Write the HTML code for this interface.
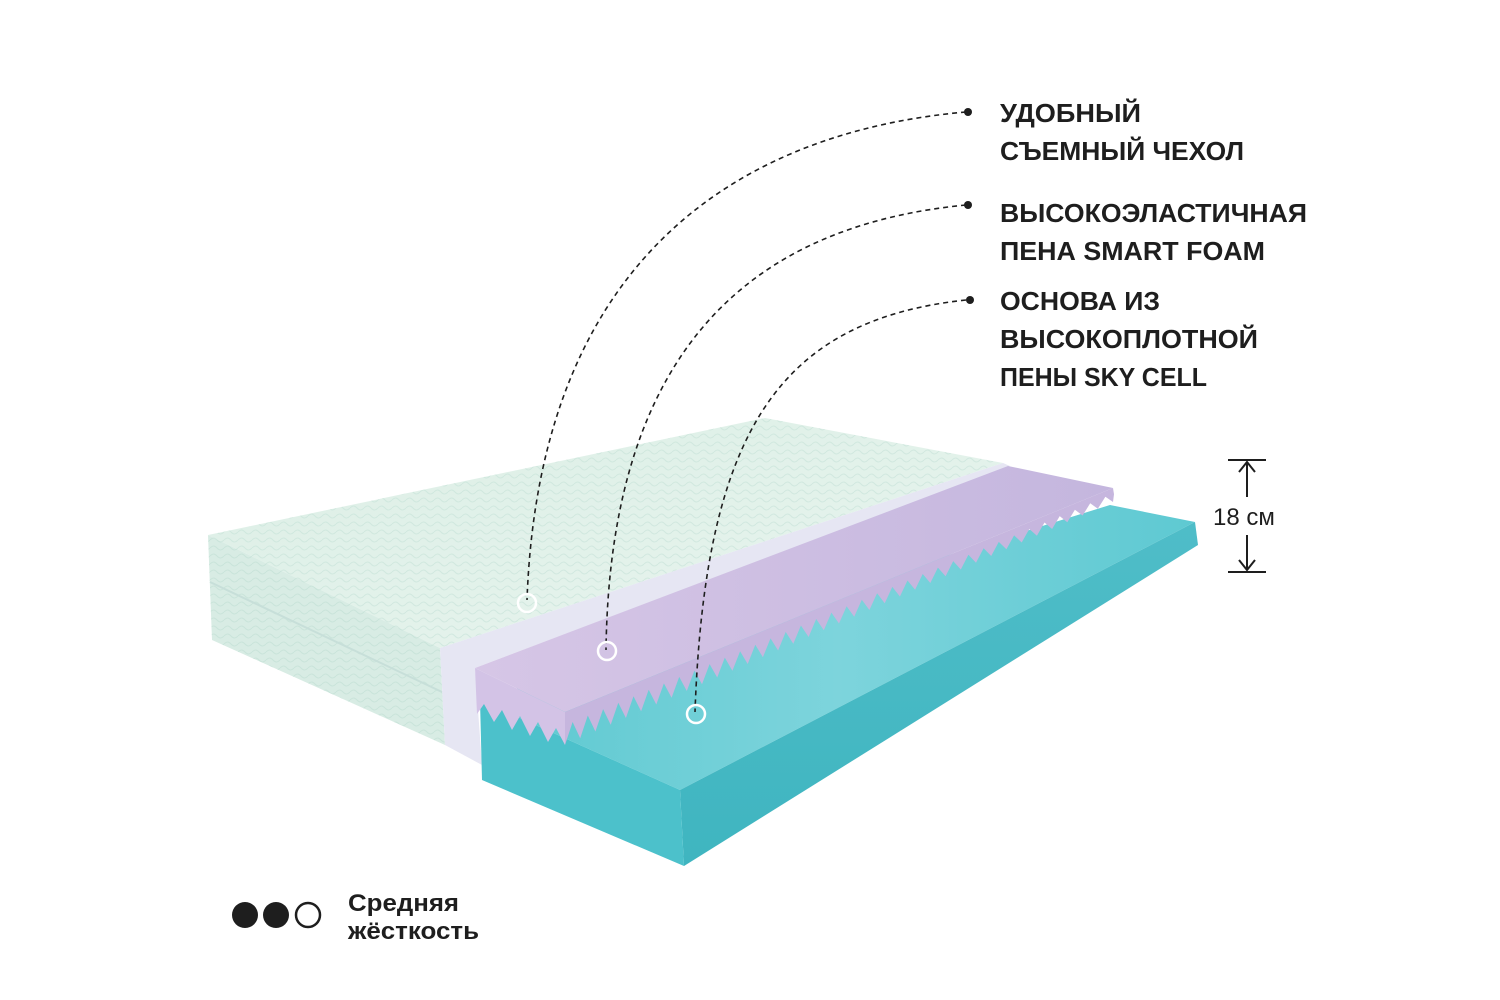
<!DOCTYPE html>
<html><head><meta charset="utf-8"><style>
html,body{margin:0;padding:0;background:#fff;width:1500px;height:1000px;overflow:hidden}
svg{display:block}
text{font-family:"Liberation Sans","DejaVu Sans",sans-serif;fill:#1e1e1e}
</style></head><body>
<svg width="1500" height="1000" viewBox="0 0 1500 1000" xmlns="http://www.w3.org/2000/svg">
<defs>
<linearGradient id="cov" x1="0" y1="0" x2="1" y2="1"><stop offset="0" stop-color="#dcefe6"/><stop offset="1" stop-color="#e8f4ee"/></linearGradient>
<linearGradient id="tealTop" x1="0" y1="0" x2="1" y2="0"><stop offset="0" stop-color="#5cc8d0"/><stop offset="0.5" stop-color="#7dd4dc"/><stop offset="1" stop-color="#5ec9d2"/></linearGradient>
<linearGradient id="tealR" x1="0" y1="0" x2="0" y2="1"><stop offset="0" stop-color="#4fbdc8"/><stop offset="1" stop-color="#3fb5c0"/></linearGradient>
<linearGradient id="pur" x1="0" y1="0" x2="1" y2="0"><stop offset="0" stop-color="#d6c6e6"/><stop offset="1" stop-color="#c4b6de"/></linearGradient>
<pattern id="wave" width="14" height="8" patternUnits="userSpaceOnUse"><path d="M0 4 Q3.5 0 7 4 T14 4" fill="none" stroke="#c6e2d8" stroke-width="1"/></pattern>
</defs>
<polygon points="208,535 765,418 1003,463 440,648" fill="url(#cov)"/>
<polygon points="208,535 765,418 1003,463 440,648" fill="url(#wave)" opacity="0.6"/>
<polygon points="208,535 440,648 445,745 212,640" fill="#d8ece4"/>
<polygon points="208,535 440,648 445,745 212,640" fill="url(#wave)" opacity="0.8"/>
<line x1="210" y1="582" x2="442" y2="692" stroke="#c7dfd9" stroke-width="2"/>
<polygon points="440,648 1003,463 1010,466 475,668 482,765 445,745" fill="#e6e6f3"/>
<polygon points="480,700 1110,505 1195,522 680,790" fill="url(#tealTop)"/>
<polygon points="1195,522 1198,545 684,866 680,790" fill="url(#tealR)"/>
<polygon points="480,700 680,790 684,866 482,780" fill="#4cc1cb"/>
<polygon points="475,668 1008,466 1113,488 565,712" fill="url(#pur)"/>
<polygon id="zig" fill="#c6b6de" points=""/>
<polygon fill="#d3c3e6" points="475,668 565,712 565,745 556,728 548,742 538,722 530,736 520,716 512,730 502,710 494,722 484,704 477,714"/>
<g fill="none" stroke="#1e1e1e" stroke-width="1.6" stroke-dasharray="5,4">
<path d="M966,112 C760,130 540,240 527,600"/>
<path d="M966,205 C760,225 610,340 606,650"/>
<path d="M966,300 C780,320 705,430 695,712"/>
</g>
<g fill="#1e1e1e"><circle cx="968" cy="112" r="4"/><circle cx="968" cy="205" r="4"/><circle cx="970" cy="300" r="4"/></g>
<g fill="none" stroke="#fff" stroke-width="2.5"><circle cx="527" cy="603" r="9"/><circle cx="607" cy="651" r="9"/><circle cx="696" cy="714" r="9"/></g>
<g font-weight="bold" font-size="26">
<text x="1000" y="122" textLength="141" lengthAdjust="spacingAndGlyphs">УДОБНЫЙ</text>
<text x="1000" y="160" textLength="244" lengthAdjust="spacingAndGlyphs">СЪЕМНЫЙ ЧЕХОЛ</text>
<text x="1000" y="222" textLength="307" lengthAdjust="spacingAndGlyphs">ВЫСОКОЭЛАСТИЧНАЯ</text>
<text x="1000" y="260" textLength="265" lengthAdjust="spacingAndGlyphs">ПЕНА SMART FOAM</text>
<text x="1000" y="310" textLength="160" lengthAdjust="spacingAndGlyphs">ОСНОВА ИЗ</text>
<text x="1000" y="348" textLength="258" lengthAdjust="spacingAndGlyphs">ВЫСОКОПЛОТНОЙ</text>
<text x="1000" y="386" textLength="207" lengthAdjust="spacingAndGlyphs">ПЕНЫ SKY CELL</text>
</g>
<g stroke="#1e1e1e" stroke-width="2" fill="none">
<line x1="1228" y1="460" x2="1266" y2="460"/><line x1="1228" y1="572" x2="1266" y2="572"/>
<line x1="1247" y1="462" x2="1247" y2="497"/><line x1="1247" y1="535" x2="1247" y2="570"/>
<polyline points="1239,472 1247,462 1255,472"/><polyline points="1239,560 1247,570 1255,560"/>
</g>
<text x="1213" y="525" font-size="24">18 см</text>
<circle cx="245" cy="915" r="13" fill="#1e1e1e"/>
<circle cx="276" cy="915" r="13" fill="#1e1e1e"/>
<circle cx="308" cy="915" r="12" fill="none" stroke="#1e1e1e" stroke-width="2.5"/>
<text x="348" y="911" font-size="24" font-weight="bold" textLength="111" lengthAdjust="spacingAndGlyphs">Средняя</text>
<text x="348" y="939" font-size="24" font-weight="bold" textLength="131" lengthAdjust="spacingAndGlyphs">жёсткость</text>
<script>
(function(){
 var pts=["565,712","1113,488"];
 var x0=565,x1=1113,y0=712,y1=488,n=36;
 function top(x){return y0+(x-x0)*(y1-y0)/(x1-x0);}
 function d(x){return 33-(x-x0)/(x1-x0)*19;}
 var step=(x1-x0)/n;
 pts.push("1114,"+(top(1113)+d(1113)*0.45).toFixed(1));
 for(var i=n;i>=0;i--){
   var xt=x0+i*step, xv=xt-step/2;
   pts.push(xt.toFixed(1)+","+(top(xt)+d(xt)).toFixed(1));
   if(i>0) pts.push(xv.toFixed(1)+","+(top(xv)+d(xv)*0.4).toFixed(1));
 }
 document.getElementById("zig").setAttribute("points",pts.join(" "));
})();
</script>
</svg>
</body></html>
